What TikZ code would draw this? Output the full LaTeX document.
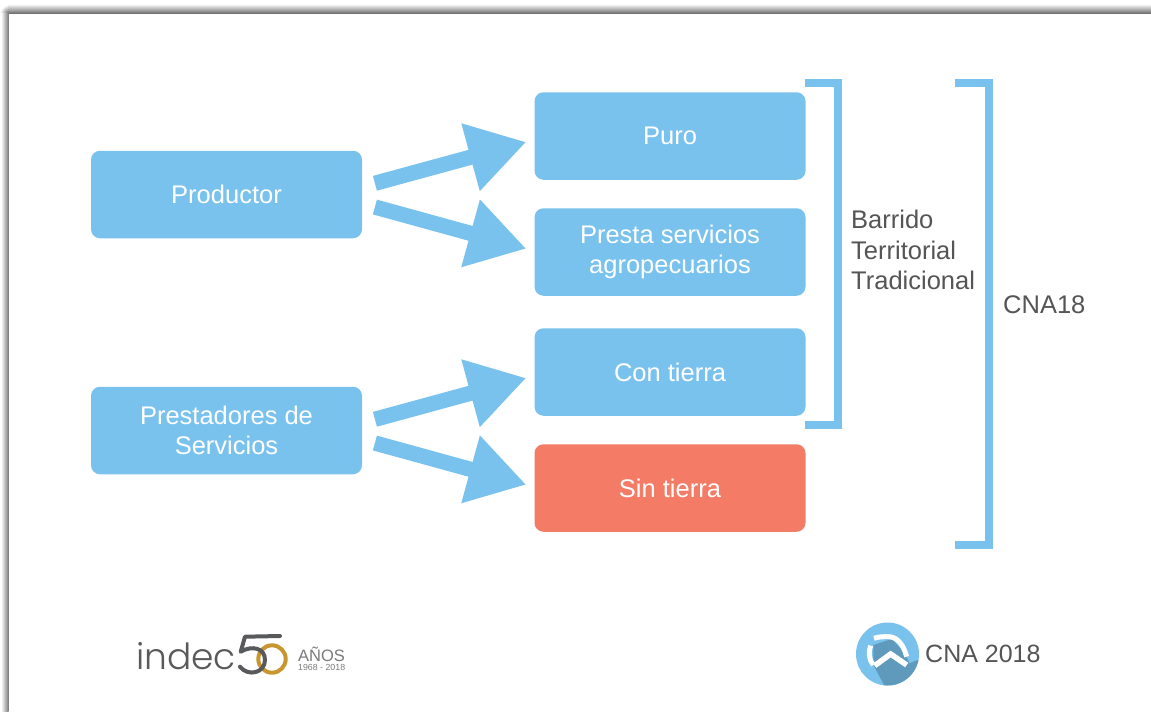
\documentclass[tikz,border=0pt]{standalone}
\usepackage{fontspec}
\setmainfont{Liberation Sans}
\newfontfamily\logofont{Poppins Light}
\usetikzlibrary{arrows.meta,calc}
\definecolor{cblue}{HTML}{7AC2EE}
\definecolor{cred}{HTML}{F47B65}
\definecolor{ctext}{HTML}{555555}
\definecolor{cdark}{HTML}{5F9ABD}
\definecolor{cgold}{HTML}{C8962E}
\definecolor{cgrey}{HTML}{58595B}
\tikzset{
  boxnode/.style={rounded corners=9pt,minimum width=271pt,minimum height=87.5pt,inner sep=0pt,align=center,text=white,font=\fontsize{25.5pt}{30.5pt}\selectfont},
  bluebox/.style={boxnode,fill=cblue},
  redbox/.style={boxnode,fill=cred},
  bigarrow/.style={draw=cblue,line width=15.3pt,-{Triangle[length=57.8pt,width=66pt,fill=cblue]}},
  bracketline/.style={draw=cblue,line width=8pt,miter limit=10},
  sidetext/.style={inner sep=0pt,text=ctext,align=left,font=\fontsize{25.5pt}{30.5pt}\selectfont},
}
\begin{document}
\begin{tikzpicture}[x=1pt,y=-1pt]
\useasboundingbox (0,0) rectangle (1151,712);
% page shadow
\shade[inner color=black!60,outer color=white] (8.5,13.5) circle (8.5);
\shade[top color=white,bottom color=black!58] (8.5,4) rectangle (1151,13.5);
\shade[left color=white,right color=black!52] (1,13.5) rectangle (8.5,712);
\fill[white] (8.5,13.5) rectangle (1151,712);
% boxes
\node[bluebox] (productor) at (226.5,194.5) {Productor};
\node[bluebox] (prestadores) at (226.5,430.5) {Prestadores de\\Servicios};
\node[bluebox] (puro) at (670,136) {Puro};
\node[bluebox] (presta) at (670,252) {Presta servicios\\agropecuarios};
\node[bluebox] (con) at (670,372) {Con tierra};
\node[redbox] (sin) at (670,488) {Sin tierra};
% arrows
\draw[bigarrow] ($(productor.east)+(12.7,-11.2)$) -- ($(puro.west)+(-8,6)$);
\draw[bigarrow] ($(productor.east)+(12.7,12.5)$) -- ($(presta.west)+(-8,-3.3)$);
\draw[bigarrow] ($(prestadores.east)+(12.7,-11.2)$) -- ($(con.west)+(-8,6)$);
\draw[bigarrow] ($(prestadores.east)+(12.7,12.5)$) -- ($(sin.west)+(-8,-3.3)$);
% brackets
\draw[bracketline] (805,83) -- (838.3,83) -- (838.3,424.7) -- (805,424.7);
\draw[bracketline] (955.3,83) -- (988.7,83) -- (988.7,544.7) -- (955.3,544.7);
\node[sidetext,anchor=west] (barrido) at (851,250) {Barrido\\Territorial\\Tradicional};
\node[sidetext,anchor=west] (cna18) at (1003,305) {CNA18};
% indec logo
\node[inner sep=0pt,anchor=base west,text=cgrey,font=\logofont\fontsize{36pt}{36pt}\selectfont] (indec) at (136,669) {indec};
\draw[cgold,line width=4pt] (272,659) circle (13.7);
\draw[cgrey,line width=4pt,line cap=round,line join=round] (280,636) -- (245,636.7) -- (240.7,651.7) .. controls (252,645) and (265,648) .. (265,660) .. controls (265,673) and (248,677) .. (240,666.7);
\node[inner sep=0pt,anchor=base west,text=cgrey!80,font=\fontsize{16.5pt}{16.5pt}\selectfont] (anos) at (298,661) {AÑOS};
\node[inner sep=0pt,anchor=base west,text=cgrey!80,font=\fontsize{8.8pt}{9pt}\selectfont] (years) at (298,670) {1968 - 2018};
% CNA logo
\fill[cblue] (887.5,654) circle (31.5);
\begin{scope}
\clip (887.5,654) circle (31.5);
\begin{scope}[shift={(850,615)},x=.3333pt,y=-.3333pt]
\fill[cdark] (70,90) -- (125,72) -- (165,115) -- (178,145) -- (215,130) -- (215,230) -- (105,215) -- (70,150) -- cycle;
\end{scope}
\end{scope}
\begin{scope}[shift={(850,615)},x=.3333pt,y=-.3333pt]
\draw[white,line width=5pt] (70,150) .. controls (55,130) and (55,110) .. (62,92);
\draw[white,line width=5pt] (72,70) .. controls (85,65) and (100,65) .. (115,65) .. controls (145,65) and (162,95) .. (170,125);
\draw[white,line width=5.5pt,miter limit=10] (74,152) -- (122,117) -- (170,150);
\end{scope}
\node[inner sep=0pt,anchor=base west,text=ctext,font=\fontsize{25pt}{25pt}\selectfont] (cnatext) at (925,662) {CNA 2018};
\end{tikzpicture}
\end{document}
